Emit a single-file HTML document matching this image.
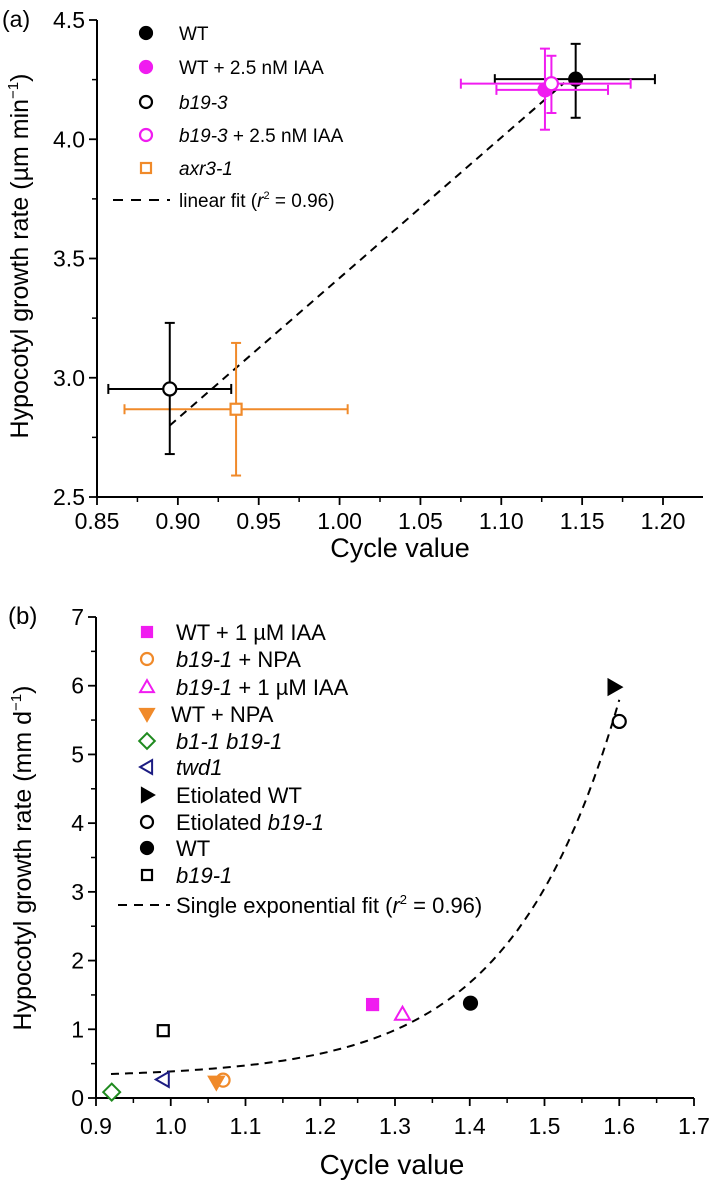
<!DOCTYPE html>
<html><head><meta charset="utf-8">
<style>
html,body{margin:0;padding:0;background:#fff;}
svg{display:block;font-family:"Liberation Sans",sans-serif;}
</style></head>
<body>
<svg id="fig" width="709" height="1181" viewBox="0 0 709 1181">
  <g id="pa"></g>
  <g id="pb"></g>
</svg>
<script>
// ===== Panel (a) data =====
const aNames = ["WT","WT + 2.5 nM IAA","b19-3","b19-3 + 2.5 nM IAA","axr3-1"];
const aX = [1.146, 1.127, 0.895, 1.131, 0.936];
const aY = [4.252, 4.207, 2.953, 4.233, 2.868];
const aXlo = [1.096, 1.097, 0.857, 1.075, 0.867];
const aXhi = [1.195, 1.166, 0.933, 1.180, 1.005];
const aYlo = [4.09, 4.04, 2.68, 4.11, 2.59];
const aYhi = [4.40, 4.38, 3.23, 4.35, 3.146];
const aFitX = [0.895, 1.139];
const aFitY = [2.80, 4.237];
const aXTicks = ["0.85","0.90","0.95","1.00","1.05","1.10","1.15","1.20"];
const aYTicks = ["2.5","3.0","3.5","4.0","4.5"];

// ===== Panel (b) data =====
const bNames = ["WT + 1 µM IAA","b19-1 + NPA","b19-1 + 1 µM IAA","WT + NPA","b1-1 b19-1","twd1","Etiolated WT","Etiolated b19-1","WT","b19-1"];
const bX = [1.270, 1.070, 1.310, 1.061, 0.921, 0.990, 1.593, 1.600, 1.401, 0.990];
const bY = [1.36, 0.26, 1.22, 0.23, 0.086, 0.27, 5.98, 5.48, 1.38, 0.98];
const bFitParams = [0.30, 8.54e-5, 6.92]; // y0, A, k
const bXTicks = ["0.9","1.0","1.1","1.2","1.3","1.4","1.5","1.6","1.7"];
const bYTicks = ["0","1","2","3","4","5","6","7"];

const NS="http://www.w3.org/2000/svg";
function mk(parent,tag,attrs){const e=document.createElementNS(NS,tag);for(const k in attrs)e.setAttribute(k,attrs[k]);parent.appendChild(e);return e;}

const MAG="#f01cf0", ORG="#f08a2a", GRN="#1f8a1f", NAV="#1c1c82";

function marker(g,shape,cx,cy,color,filled,s){
  let e;
  const fill=filled?color:"#fff";
  if(shape==="circle"){e=mk(g,"circle",{cx:cx,cy:cy,r:s,fill:fill,stroke:color,"stroke-width":2.2});}
  else if(shape==="square"){e=mk(g,"rect",{x:cx-s,y:cy-s,width:2*s,height:2*s,fill:fill,stroke:color,"stroke-width":2.2});}
  else if(shape==="tri-up"){e=mk(g,"polygon",{points:`${cx},${cy-s*1.15} ${cx-s*1.15},${cy+s*0.85} ${cx+s*1.15},${cy+s*0.85}`,fill:fill,stroke:color,"stroke-width":2});}
  else if(shape==="tri-down"){e=mk(g,"polygon",{points:`${cx},${cy+s*1.15} ${cx-s*1.15},${cy-s*0.85} ${cx+s*1.15},${cy-s*0.85}`,fill:fill,stroke:color,"stroke-width":2});}
  else if(shape==="tri-left"){e=mk(g,"polygon",{points:`${cx-s*1.15},${cy} ${cx+s*0.85},${cy-s*1.15} ${cx+s*0.85},${cy+s*1.15}`,fill:fill,stroke:color,"stroke-width":2});}
  else if(shape==="tri-right"){e=mk(g,"polygon",{points:`${cx+s*1.15},${cy} ${cx-s*0.85},${cy-s*1.15} ${cx-s*0.85},${cy+s*1.15}`,fill:fill,stroke:color,"stroke-width":2});}
  else if(shape==="diamond"){e=mk(g,"polygon",{points:`${cx},${cy-s*1.3} ${cx+s*1.3},${cy} ${cx},${cy+s*1.3} ${cx-s*1.3},${cy}`,fill:fill,stroke:color,"stroke-width":2});}
  return e;
}

function axes(g,opt){
  const {x0,x1,y0,y1,xmin,xmax,xEnd,ymin,ymax,xTicks,yTicks,xMinor,yMinor,fs,prefix,xly}=opt;
  const sx=v=>x0+(v-xmin)/(xmax-xmin)*(x1-x0);
  const sy=v=>y0-(v-ymin)/(ymax-ymin)*(y0-y1);
  const ya=mk(g,"line",{x1:x0,y1:y0,x2:x0,y2:y1,stroke:"#000","stroke-width":2});
  
  
  const xa=mk(g,"line",{x1:x0-1,y1:y0,x2:xEnd,y2:y0,stroke:"#000","stroke-width":2});
  
  
  xTicks.forEach(t=>{
    const v=parseFloat(t), x=sx(v);
    mk(g,"line",{x1:x,y1:y0,x2:x,y2:y0+8,stroke:"#000","stroke-width":1.8});
    const tx=mk(g,"text",{x:x,y:y0+xly,"text-anchor":"middle","font-size":fs});
    tx.textContent=t;
    
    
    const m=v+xMinor;
    if(sx(m)<=xEnd) mk(g,"line",{x1:sx(m),y1:y0,x2:sx(m),y2:y0+5,stroke:"#000","stroke-width":1.5});
  });
  yTicks.forEach(t=>{
    const v=parseFloat(t), y=sy(v);
    mk(g,"line",{x1:x0,y1:y,x2:x0-8,y2:y,stroke:"#000","stroke-width":1.8});
    const tx=mk(g,"text",{x:x0-12,y:y+8,"text-anchor":"end","font-size":fs});
    tx.textContent=t;
    
    
    const m=v+yMinor;
    if(m<ymax+1e-9 && sy(m)>=y1-1) mk(g,"line",{x1:x0,y1:sy(m),x2:x0-5,y2:sy(m),stroke:"#000","stroke-width":1.5});
  });
  return {sx,sy};
}

// ===== Panel (a) =====
(function(){
  const g=document.getElementById("pa");
  const {sx,sy}=axes(g,{x0:97,x1:663,y0:497,y1:20,xmin:0.85,xmax:1.20,xEnd:703,ymin:2.5,ymax:4.5,
    xTicks:aXTicks,yTicks:aYTicks,xMinor:0.025,yMinor:0.25,fs:23,prefix:"a",xly:32});
  const lab=mk(g,"text",{x:2,y:27,"font-size":23});lab.textContent="(a)";
  
  const xt=mk(g,"text",{x:400,y:557,"text-anchor":"middle","font-size":27});xt.textContent="Cycle value";
  
  const yt=mk(g,"text",{x:0,y:0,"text-anchor":"middle","font-size":25,transform:"translate(28,256) rotate(-90)"});
  yt.innerHTML='Hypocotyl growth rate (µm min<tspan dy="-10" font-size="15">−1</tspan><tspan dy="10">)</tspan>';
  

  const fit=mk(g,"line",{x1:sx(aFitX[0]),y1:sy(aFitY[0]),x2:sx(aFitX[1]),y2:sy(aFitY[1]),stroke:"#000","stroke-width":2,"stroke-dasharray":"8,6"});
  

  const colors=["#000",MAG,"#000",MAG,ORG];
  const shapes=["circle","circle","circle","circle","square"];
  const filled=[true,true,false,false,false];
  const order=[4,2,0,1,3];
  order.forEach(i=>{
    const eg=mk(g,"g",{});
    
    
    const c=colors[i], cx=sx(aX[i]), cy=sy(aY[i]);
    const xl=sx(aXlo[i]), xh=sx(aXhi[i]), yl=sy(aYlo[i]), yh=sy(aYhi[i]);
    mk(eg,"line",{x1:xl,y1:cy,x2:xh,y2:cy,stroke:c,"stroke-width":2});
    mk(eg,"line",{x1:xl,y1:cy-5,x2:xl,y2:cy+5,stroke:c,"stroke-width":2});
    mk(eg,"line",{x1:xh,y1:cy-5,x2:xh,y2:cy+5,stroke:c,"stroke-width":2});
    mk(eg,"line",{x1:cx,y1:yl,x2:cx,y2:yh,stroke:c,"stroke-width":2});
    mk(eg,"line",{x1:cx-5,y1:yl,x2:cx+5,y2:yl,stroke:c,"stroke-width":2});
    mk(eg,"line",{x1:cx-5,y1:yh,x2:cx+5,y2:yh,stroke:c,"stroke-width":2});
    marker(eg,shapes[i],cx,cy,c,filled[i],shapes[i]==="square"?5.5:6.5);
  });

  const legY=[33,67,102,135,168];
  const legHTML=['WT','WT + 2.5 nM IAA','<tspan font-style="italic">b19-3</tspan>','<tspan font-style="italic">b19-3</tspan> + 2.5 nM IAA','<tspan font-style="italic">axr3-1</tspan>'];
  aNames.forEach((n,i)=>{
    const lg=mk(g,"g",{});
    
    
    marker(lg,shapes[i],146,legY[i],colors[i],filled[i],shapes[i]==="square"?5:6);
    const t=mk(lg,"text",{x:179,y:legY[i]+7,"font-size":19});t.innerHTML=legHTML[i];
  });
  const lf=mk(g,"g",{});
  
  mk(lf,"line",{x1:113,y1:200,x2:170,y2:200,stroke:"#000","stroke-width":2,"stroke-dasharray":"10,8"});
  const t=mk(lf,"text",{x:179,y:207,"font-size":19});
  t.innerHTML='linear fit (<tspan font-style="italic">r</tspan><tspan dy="-8" font-size="11">2</tspan><tspan dy="8"> = 0.96)</tspan>';
})();

// ===== Panel (b) =====
(function(){
  const g=document.getElementById("pb");
  const {sx,sy}=axes(g,{x0:96,x1:694,y0:1098,y1:617,xmin:0.9,xmax:1.7,xEnd:694,ymin:0,ymax:7,
    xTicks:bXTicks,yTicks:bYTicks,xMinor:0.05,yMinor:0.5,fs:23,prefix:"b",xly:36});
  const lab=mk(g,"text",{x:8,y:624,"font-size":24});lab.textContent="(b)";
  
  const xt=mk(g,"text",{x:392,y:1174,"text-anchor":"middle","font-size":28});xt.textContent="Cycle value";
  
  const yt=mk(g,"text",{x:0,y:0,"text-anchor":"middle","font-size":25,transform:"translate(31,858) rotate(-90)"});
  yt.innerHTML='Hypocotyl growth rate (mm d<tspan dy="-10" font-size="15">−1</tspan><tspan dy="10">)</tspan>';
  

  let d="";
  for(let k=0;k<=80;k++){
    const x=0.92+(1.6-0.92)*k/80;
    const y=bFitParams[0]+bFitParams[1]*Math.exp(bFitParams[2]*x);
    d+=(k?"L":"M")+sx(x).toFixed(1)+","+sy(y).toFixed(1);
  }
  const fc=mk(g,"path",{d:d,fill:"none",stroke:"#000","stroke-width":2,"stroke-dasharray":"8,6"});
  

  const colors=[MAG,ORG,MAG,ORG,GRN,NAV,"#000","#000","#000","#000"];
  const shapes=["square","circle","tri-up","tri-down","diamond","tri-left","tri-right","circle","circle","square"];
  const filled=[true,false,false,true,false,false,true,false,true,false];
  bNames.forEach((n,i)=>{
    const m=marker(g,shapes[i],sx(bX[i]),sy(bY[i]),colors[i],filled[i],shapes[i]==="square"?5.5:6.5);
    
    
  });

  const legY=[632,659,687,714,741,767,795,822,848,875];
  const legX=[176,176,176,171,176,176,176,176,176,176];
  const legHTML=['WT + 1 µM IAA','<tspan font-style="italic">b19-1</tspan> + NPA','<tspan font-style="italic">b19-1</tspan> + 1 µM IAA','WT + NPA','<tspan font-style="italic">b1-1 b19-1</tspan>','<tspan font-style="italic">twd1</tspan>','Etiolated WT','Etiolated <tspan font-style="italic">b19-1</tspan>','WT','<tspan font-style="italic">b19-1</tspan>'];
  bNames.forEach((n,i)=>{
    const lg=mk(g,"g",{});
    
    
    marker(lg,shapes[i],147,legY[i],colors[i],filled[i],shapes[i]==="square"?5:6);
    const t=mk(lg,"text",{x:legX[i],y:legY[i]+8,"font-size":22});t.innerHTML=legHTML[i];
  });
  const lf=mk(g,"g",{});
  
  mk(lf,"line",{x1:118,y1:905,x2:170,y2:905,stroke:"#000","stroke-width":2,"stroke-dasharray":"9,7"});
  const t=mk(lf,"text",{x:176,y:913,"font-size":22});
  t.innerHTML='Single exponential fit (<tspan font-style="italic">r</tspan><tspan dy="-9" font-size="13">2</tspan><tspan dy="9"> = 0.96)</tspan>';
})();
</script>
</body></html>
